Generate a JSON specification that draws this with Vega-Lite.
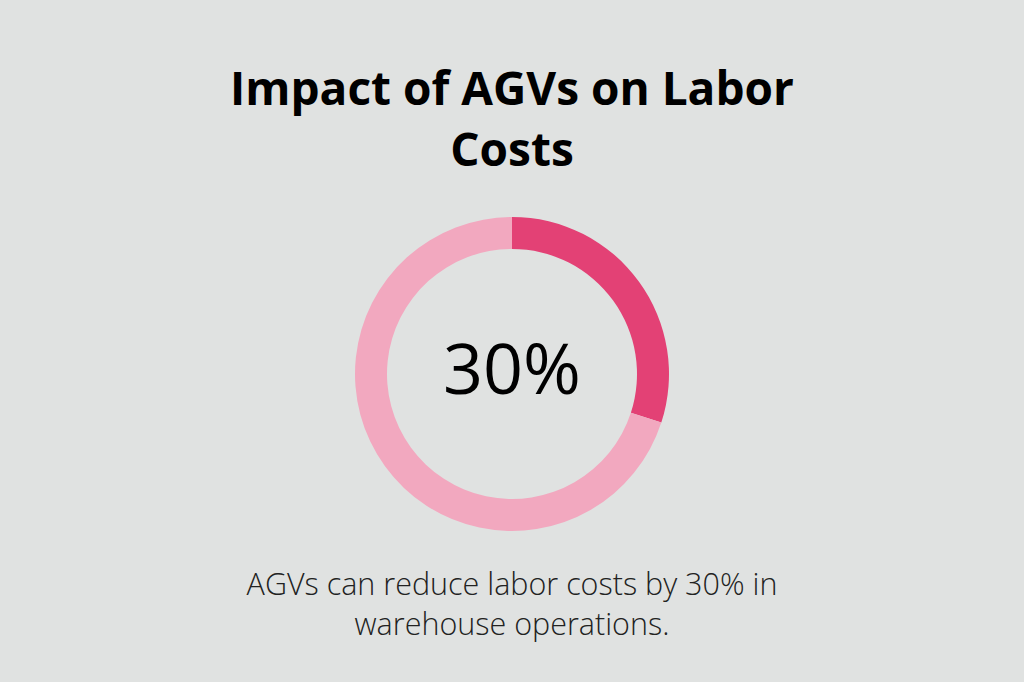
{
  "$schema": "https://vega.github.io/schema/vega-lite/v6.json",
  "background": "#E0E2E1",
  "padding": {"left": 0, "right": 0, "top": 68, "bottom": 90},
  "title": {
    "text": ["Impact of AGVs on Labor", "Costs"],
    "font": "Open Sans",
    "fontSize": 46,
    "fontWeight": "bold",
    "lineHeight": 61,
    "color": "#000000",
    "anchor": "middle",
    "offset": 26
  },
  "vconcat": [
    {
      "width": 1024,
      "height": 344,
      "title": {
        "text": ["AGVs can reduce labor costs by 30% in", "warehouse operations."],
        "orient": "bottom",
        "font": "Open Sans",
        "fontSize": 30.5,
        "fontWeight": 300,
        "lineHeight": 40,
        "color": "#222222",
        "anchor": "middle",
        "offset": 25
      },
      "data": {
        "values": [
          {"category": "Reduced", "value": 30, "rank": 1, "label": "30%"},
          {"category": "Remaining", "value": 70, "rank": 2, "label": "30%"}
        ]
      },
      "layer": [
        {
          "mark": {"type": "arc", "outerRadius": 157, "innerRadius": 125},
          "encoding": {
            "theta": {"field": "value", "type": "quantitative", "stack": true},
            "order": {"field": "rank", "type": "quantitative"},
            "color": {
              "field": "category",
              "type": "nominal",
              "scale": {"domain": ["Reduced", "Remaining"], "range": ["#E34175", "#F2A8BF"]},
              "legend": null
            }
          }
        },
        {
          "transform": [{"filter": "datum.rank == 1"}],
          "mark": {"type": "text", "font": "Open Sans", "fontSize": 70, "color": "#000000", "align": "center", "baseline": "middle", "dy": -1},
          "encoding": {"text": {"field": "label", "type": "nominal"}}
        }
      ]
    }
  ],
  "config": {"view": {"stroke": null}, "concat": {"spacing": 0}}
}
